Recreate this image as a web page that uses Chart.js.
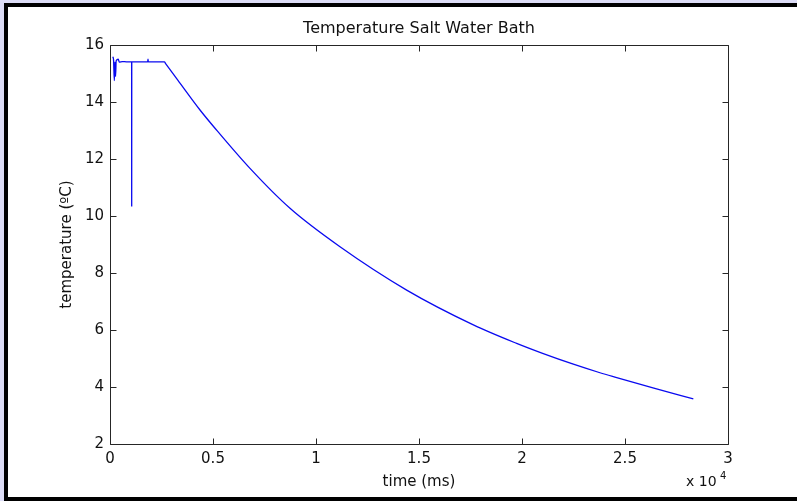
<!DOCTYPE html>
<html>
<head>
<meta charset="utf-8">
<script src="https://cdn.jsdelivr.net/npm/chart.js@4/dist/chart.umd.min.js"></script>
<style>
  html, body { margin: 0; padding: 0; background: #ffffff; }
  #wrap { position: relative; width: 797px; height: 501px; overflow: hidden; background: #ffffff; }
  #c { position: absolute; left: 0; top: 0; }
  .lav-top { position: absolute; left: 0; top: 0; width: 797px; height: 3px; background: #dcdcf6; }
  .lav-left { position: absolute; left: 0; top: 0; width: 4px; height: 501px; background: #dcdcf6; }
  .blk-top { position: absolute; left: 4px; top: 3px; width: 793px; height: 4px; background: #000; }
  .blk-left { position: absolute; left: 4px; top: 3px; width: 4px; height: 498px; background: #000; }
  .blk-bot { position: absolute; left: 4px; top: 497px; width: 793px; height: 4px; background: #000; }
</style>
</head>
<body>
<div id="wrap">
  <canvas id="c" width="797" height="501"></canvas>
  <div class="lav-top"></div>
  <div class="lav-left"></div>
  <div class="blk-top"></div>
  <div class="blk-left"></div>
  <div class="blk-bot"></div>
</div>
<script>
// ---- data ----
const chartTitle = "Temperature Salt Water Bath";
const xAxisLabel = "time (ms)";
const yAxisLabel = "temperature (\u00BAC)";
const xTickValues = [0, 5000, 10000, 15000, 20000, 25000, 30000];
const xTickLabels = ["0", "0.5", "1", "1.5", "2", "2.5", "3"];
const yTickValues = [2, 4, 6, 8, 10, 12, 14, 16];
const timeMs = [
  130, 170, 210, 240, 270, 300, 400, 450, 600, 800, 1000,
  1050, 1053, 1056, 1300, 1600, 1830, 1845, 1860, 2100, 2400, 2640,
  2700, 3300, 4369, 5097, 6796, 8738, 11165, 14401, 17638,
  19741, 21000, 22492, 23786, 24597, 26400, 28317
];
const temperatureC = [
  15.59, 15.50, 14.75, 15.40, 14.90, 15.45, 15.50, 15.40, 15.42, 15.41, 15.41,
  15.41, 10.33, 15.41, 15.41, 15.41, 15.41, 15.50, 15.41, 15.41, 15.41, 15.41,
  15.35, 14.76, 13.72, 13.08, 11.67, 10.27, 8.92, 7.40, 6.18,
  5.53, 5.18, 4.80, 4.50, 4.33, 3.96, 3.58
];

const FONT = "'DejaVu Sans', sans-serif";
const points = timeMs.map((t, i) => ({ x: t, y: temperatureC[i] }));

const framePlugin = {
  id: 'matlabFrame',
  afterDraw(chart) {
    const ctx = chart.ctx;
    const a = chart.chartArea;
    const xs = chart.scales.x, ys = chart.scales.y;
    const L = Math.round(a.left) + 0.5, R = Math.round(a.right) + 0.5;
    const T = Math.round(a.top) + 0.5, B = Math.round(a.bottom) + 0.5;
    ctx.save();
    ctx.strokeStyle = '#262626';
    ctx.lineWidth = 1;
    ctx.beginPath();
    ctx.rect(L, T, R - L, B - T);
    const tl = 6;
    xTickValues.forEach(v => {
      const px = Math.round(xs.getPixelForValue(v)) + 0.5;
      ctx.moveTo(px, B); ctx.lineTo(px, B - tl);
      ctx.moveTo(px, T); ctx.lineTo(px, T + tl);
    });
    yTickValues.forEach(v => {
      const py = Math.round(ys.getPixelForValue(v)) + 0.5;
      ctx.moveTo(L, py); ctx.lineTo(L + tl, py);
      ctx.moveTo(R, py); ctx.lineTo(R - tl, py);
    });
    ctx.stroke();

    // texts
    ctx.fillStyle = '#111';
    ctx.textAlign = 'center';
    ctx.textBaseline = 'alphabetic';
    ctx.font = '16px ' + FONT;
    const cx = (a.left + a.right) / 2;
    ctx.fillText(chartTitle, cx, 33);
    ctx.font = '15px ' + FONT;
    ctx.fillText(xAxisLabel, cx, 486);
    // exponent
    ctx.textAlign = 'left';
    ctx.font = '14px ' + FONT;
    ctx.fillText('x 10', 686, 486);
    ctx.font = '10px ' + FONT;
    ctx.fillText('4', 720, 479);
    // y label
    ctx.save();
    ctx.translate(71, (a.top + a.bottom) / 2);
    ctx.rotate(-Math.PI / 2);
    ctx.textAlign = 'center';
    ctx.font = '15px ' + FONT;
    ctx.fillText(yAxisLabel, 0, 0);
    ctx.restore();
    ctx.restore();
  }
};

new Chart(document.getElementById('c'), {
  type: 'line',
  data: {
    datasets: [{
      data: points,
      borderColor: '#0a0af0',
      borderWidth: 1.3,
      pointRadius: 0,
      cubicInterpolationMode: 'monotone',
      fill: false
    }]
  },
  options: {
    responsive: false,
    animation: false,
    devicePixelRatio: 1,
    layout: { padding: { left: 0, top: 45, right: 69, bottom: 0 } },
    plugins: { legend: { display: false }, title: { display: false }, tooltip: { enabled: false } },
    scales: {
      x: {
        type: 'linear',
        min: 0, max: 30000,
        afterFit(s) { s.height = 57; },
        afterBuildTicks(s) { s.ticks = xTickValues.map(v => ({ value: v })); },
        grid: { display: true, drawOnChartArea: false, drawTicks: false, color: 'rgba(0,0,0,0)' },
        border: { display: false },
        ticks: {
          padding: 6,
          color: '#111',
          font: { family: FONT, size: 15 },
          maxRotation: 0,
          autoSkip: false,
          callback: (v) => xTickLabels[xTickValues.indexOf(v)]
        }
      },
      y: {
        type: 'linear',
        min: 2, max: 16,
        afterFit(s) { s.width = 110; },
        afterBuildTicks(s) { s.ticks = yTickValues.map(v => ({ value: v })); },
        grid: { display: true, drawOnChartArea: false, drawTicks: false, color: 'rgba(0,0,0,0)' },
        border: { display: false },
        ticks: {
          padding: 6,
          color: '#111',
          font: { family: FONT, size: 15 },
          autoSkip: false,
          callback: (v) => String(v)
        }
      }
    }
  },
  plugins: [framePlugin]
});
</script>
</body>
</html>
